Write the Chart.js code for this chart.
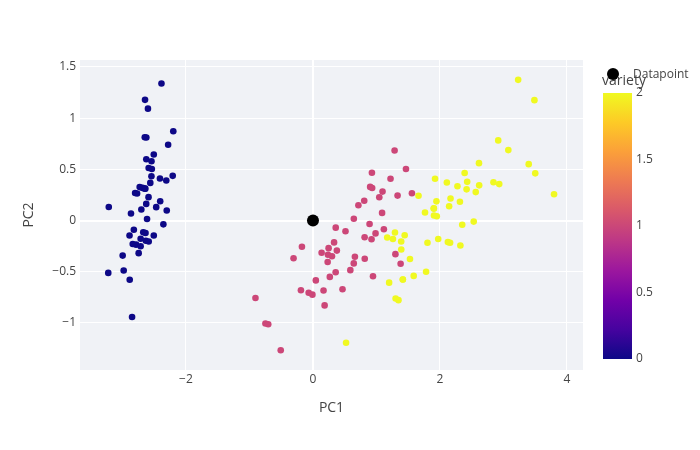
<!DOCTYPE html>
<html>
<head>
<meta charset="utf-8">
<script src="https://cdn.jsdelivr.net/npm/chart.js@4"></script>
<style>
  html, body { margin: 0; padding: 0; background: #fff; }
  #wrap { width: 700px; height: 450px; }
</style>
</head>
<body>
<div id="wrap"><canvas id="pcaChart"></canvas></div>
<script>
// PCA of iris, PC1 / PC2 per flower
const pc1 = [
  -2.684, -2.714, -2.889, -2.745, -2.729, -2.281, -2.821, -2.626, -2.886, -2.673,
  -2.507, -2.613, -2.786, -3.224, -2.645, -2.386, -2.624, -2.648, -2.200, -2.588,
  -2.310, -2.544, -3.216, -2.303, -2.356, -2.507, -2.469, -2.562, -2.640, -2.632,
  -2.587, -2.410, -2.649, -2.599, -2.637, -2.866, -2.625, -2.801, -2.981, -2.590,
  -2.770, -2.849, -2.997, -2.406, -2.209, -2.714, -2.538, -2.839, -2.543, -2.703,
  1.285, 0.932, 1.464, 0.183, 1.088, 0.642, 1.095, -0.749, 1.044, -0.009,
  -0.508, 0.512, 0.265, 0.985, -0.174, 0.928, 0.660, 0.236, 0.945, 0.045,
  1.116, 0.358, 1.298, 0.922, 0.715, 0.900, 1.332, 1.558, 0.813, -0.306,
  -0.068, -0.190, 0.136, 1.380, 0.588, 0.807, 1.221, 0.815, 0.246, 0.166,
  0.465, 0.891, 0.231, -0.705, 0.357, 0.332, 0.376, 0.643, -0.906, 0.299,
  2.531, 1.415, 2.617, 1.972, 2.350, 3.397, 0.521, 2.933, 2.321, 2.917,
  1.662, 1.803, 2.166, 1.346, 1.586, 1.904, 1.950, 3.487, 3.796, 1.301,
  2.428, 1.199, 3.500, 1.389, 2.275, 2.614, 1.259, 1.291, 2.124, 2.388,
  2.842, 3.231, 2.159, 1.444, 1.781, 3.076, 2.144, 1.905, 1.169, 2.108,
  2.314, 1.922, 1.415, 2.563, 2.419, 1.944, 1.527, 1.764, 1.901, 1.390
];
const pc2 = [
  0.319, -0.177, -0.145, -0.318, 0.327, 0.741, -0.089, 0.163, -0.578, -0.114,
  0.645, 0.015, -0.235, -0.511, 1.179, 1.338, 0.811, 0.312, 0.873, 0.514,
  0.391, 0.433, 0.133, 0.099, -0.037, -0.146, 0.131, 0.368, 0.312, -0.197,
  -0.204, 0.411, 0.813, 1.093, -0.121, 0.069, 0.599, 0.269, -0.488, 0.229,
  0.264, -0.941, -0.342, 0.189, 0.437, -0.250, 0.504, -0.228, 0.579, 0.108,
  0.685, 0.318, 0.504, -0.828, 0.075, -0.418, 0.283, -1.005, 0.228, -0.723,
  -1.266, -0.104, -0.550, -0.125, -0.255, 0.467, -0.353, -0.334, -0.543, -0.584,
  -0.085, -0.069, -0.328, -0.183, 0.149, 0.329, 0.244, 0.267, -0.163, -0.368,
  -0.705, -0.680, -0.314, -0.421, -0.484, 0.194, 0.408, -0.372, -0.269, -0.682,
  -0.671, -0.034, -0.404, -1.012, -0.505, -0.213, -0.293, 0.018, -0.756, -0.349,
  -0.010, -0.575, 0.344, -0.180, -0.040, 0.551, -1.193, 0.356, -0.244, 0.783,
  0.242, -0.216, 0.216, -0.777, -0.540, 0.119, 0.042, 1.176, 0.257, -0.761,
  0.378, -0.606, 0.461, -0.204, 0.335, 0.561, -0.180, -0.117, -0.210, 0.465,
  0.375, 1.374, -0.217, -0.143, -0.500, 0.688, 0.140, 0.049, -0.165, 0.372,
  0.184, 0.409, -0.575, 0.278, 0.305, 0.188, -0.375, 0.079, 0.117, -0.283
];
// 0 = setosa, 1 = versicolor, 2 = virginica
const variety = [].concat(
  Array(50).fill(0), Array(50).fill(1), Array(50).fill(2)
);

const datapointX = [0];
const datapointY = [0];

const xTicks = [-2, 0, 2, 4];
const yTicks = [-1, -0.5, 0, 0.5, 1, 1.5];
const colorbarTicks = [0, 0.5, 1, 1.5, 2];

// plasma colour scale
const plasma = ['#0d0887', '#46039f', '#7201a8', '#9c179e', '#bd3786',
                '#d8576b', '#ed7953', '#fb9f3a', '#fdca26', '#f0f921'];
const varietyColors = ['#0d0887', '#cc4778', '#f0f921'];

const textColor = '#444';
const fontFamily = '"Open Sans", "Noto Sans", sans-serif';

function fmt(v) {
    return v < 0 ? '\u2212' + Math.abs(v) : String(v);
}

// fond du graphique + colorbar + légende
const decorPlugin = {
    id: 'decor',
    beforeDraw(chart) {
        const { ctx, chartArea: a } = chart;
        ctx.save();
        ctx.fillStyle = '#f0f2f6';
        ctx.fillRect(a.left, a.top, a.right - a.left, a.bottom - a.top);
        ctx.restore();
    },
    afterDraw(chart) {
        const ctx = chart.ctx;
        const barL = 603, barR = 632, barT = 93, barB = 359;

        ctx.save();
        const grad = ctx.createLinearGradient(0, barB, 0, barT);
        plasma.forEach((c, i) => grad.addColorStop(i / (plasma.length - 1), c));
        ctx.fillStyle = grad;
        ctx.fillRect(barL, barT, barR - barL, barB - barT);

        ctx.font = '12px ' + fontFamily;
        ctx.fillStyle = textColor;
        ctx.textAlign = 'left';
        ctx.textBaseline = 'middle';
        colorbarTicks.forEach(v => {
            const y = barB - (v / 2) * (barB - barT);
            ctx.fillText(String(v), barR + 4, y);
        });

        ctx.font = '14px ' + fontFamily;
        ctx.fillText('variety', 602, 81);

        // légende "Datapoint"
        ctx.beginPath();
        ctx.arc(613, 74, 6, 0, Math.PI * 2);
        ctx.fillStyle = '#000';
        ctx.fill();
        ctx.font = '12px ' + fontFamily;
        ctx.fillStyle = textColor;
        ctx.fillText('Datapoint', 633, 75);
        ctx.restore();
    }
};

const points = pc1.map((x, i) => ({ x: x, y: pc2[i] }));

new Chart(document.getElementById('pcaChart'), {
    type: 'scatter',
    data: {
        datasets: [{
            label: 'iris',
            data: points,
            pointRadius: 3.3,
            pointHoverRadius: 3.3,
            borderWidth: 0,
            backgroundColor: variety.map(v => varietyColors[v])
        }, {
            label: 'Datapoint',
            data: datapointX.map((x, i) => ({ x: x, y: datapointY[i] })),
            pointRadius: 6,
            borderWidth: 0,
            backgroundColor: '#000'
        }]
    },
    options: {
        responsive: true,
        maintainAspectRatio: false,
        animation: false,
        layout: {
            padding: { left: 0, top: 60, right: 117, bottom: 0 }
        },
        plugins: {
            legend: { display: false },
            tooltip: { enabled: false }
        },
        scales: {
            x: {
                type: 'linear',
                min: -3.669,
                max: 4.252,
                afterBuildTicks: s => { s.ticks = xTicks.map(v => ({ value: v })); },
                afterFit: s => { s.height = 80; },
                border: { display: false },
                grid: {
                    color: '#fff',
                    lineWidth: c => (c.tick && c.tick.value === 0 ? 2 : 1),
                    drawTicks: false
                },
                ticks: {
                    padding: 2,
                    color: textColor,
                    font: { family: fontFamily, size: 12 },
                    callback: v => fmt(v)
                },
                title: {
                    display: true,
                    text: 'PC1',
                    color: textColor,
                    font: { family: fontFamily, size: 14 },
                    padding: { top: 0, bottom: 34 }
                }
            },
            y: {
                type: 'linear',
                min: -1.459,
                max: 1.568,
                afterBuildTicks: s => { s.ticks = yTicks.map(v => ({ value: v })); },
                afterFit: s => { s.width = 80; },
                border: { display: false },
                grid: {
                    color: '#fff',
                    lineWidth: c => (c.tick && c.tick.value === 0 ? 2 : 1),
                    drawTicks: false
                },
                ticks: {
                    padding: 4,
                    color: textColor,
                    font: { family: fontFamily, size: 12 },
                    callback: v => fmt(v)
                },
                title: {
                    display: true,
                    text: 'PC2',
                    color: textColor,
                    font: { family: fontFamily, size: 14 },
                    padding: { top: 21, bottom: 0 }
                }
            }
        }
    },
    plugins: [decorPlugin]
});
</script>
</body>
</html>
